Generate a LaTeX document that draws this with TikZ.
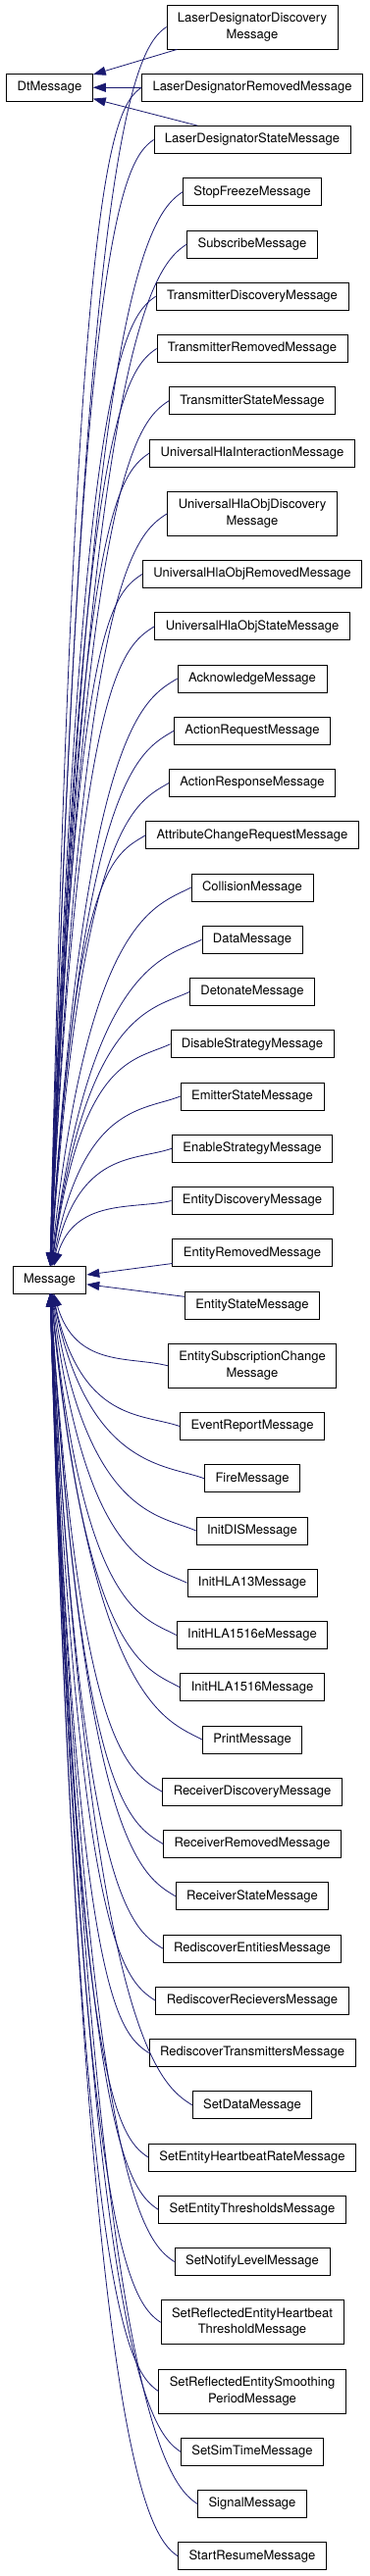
\documentclass[tikz,border=0pt]{standalone}
\usepackage{fontspec}
\setmainfont{TeX Gyre Heros}
\usepackage{xcolor}
\usepackage{tikz}
\usetikzlibrary{arrows.meta}
\definecolor{edgeBlue}{HTML}{191970}
\newdimen\westx
\newdimen\westy

\begin{document}
\begin{tikzpicture}[
    x=1pt, y=1pt,
    cls/.style={draw, line width=0.8pt, minimum height=28pt, inner xsep=11pt, inner ysep=7pt, align=center, font=\fontsize{13pt}{16.5pt}\selectfont},
    twoline/.style={minimum height=45pt},
    inh/.style={draw=edgeBlue, line width=0.8pt, arrows={Triangle[length=13pt, width=9pt]}-},
]
    \useasboundingbox (0,0) rectangle (376,-2627);

    % Base classes
    \node[cls] (dtmsg) at (50.5, -89.25) {DtMessage};
    \node[cls] (msg) at (50.5, -1305) {Message};

    % Derived classes
    \node[cls, twoline] (lddisc) at (257, -27.5) {LaserDesignatorDiscovery\\Message};
    \node[cls] (ldrem) at (257, -89.25) {LaserDesignatorRemovedMessage};
    \node[cls] (ldstate) at (257, -142.5) {LaserDesignatorStateMessage};
    \node[cls] (stopfreeze) at (257, -195.75) {StopFreezeMessage};
    \node[cls] (subscribe) at (257, -249) {SubscribeMessage};
    \node[cls] (txdisc) at (257, -302.25) {TransmitterDiscoveryMessage};
    \node[cls] (txrem) at (257, -355.5) {TransmitterRemovedMessage};
    \node[cls] (txstate) at (257, -408.75) {TransmitterStateMessage};
    \node[cls] (uhlaint) at (257, -462) {UniversalHlaInteractionMessage};
    \node[cls, twoline] (uhladisc) at (257, -523.75) {UniversalHlaObjDiscovery\\Message};
    \node[cls] (uhlarem) at (257, -585.5) {UniversalHlaObjRemovedMessage};
    \node[cls] (uhlastate) at (257, -638.75) {UniversalHlaObjStateMessage};
    \node[cls] (ack) at (257, -692) {AcknowledgeMessage};
    \node[cls] (actreq) at (257, -745.25) {ActionRequestMessage};
    \node[cls] (actresp) at (257, -798.5) {ActionResponseMessage};
    \node[cls] (attrchg) at (257, -851.75) {AttributeChangeRequestMessage};
    \node[cls] (collision) at (257, -905) {CollisionMessage};
    \node[cls] (data) at (257, -958.25) {DataMessage};
    \node[cls] (detonate) at (257, -1011.5) {DetonateMessage};
    \node[cls] (disable) at (257, -1064.75) {DisableStrategyMessage};
    \node[cls] (emitter) at (257, -1118) {EmitterStateMessage};
    \node[cls] (enable) at (257, -1171.25) {EnableStrategyMessage};
    \node[cls] (entdisc) at (257, -1224.5) {EntityDiscoveryMessage};
    \node[cls] (entrem) at (257, -1277.75) {EntityRemovedMessage};
    \node[cls] (entstate) at (257, -1331) {EntityStateMessage};
    \node[cls, twoline] (entsub) at (257, -1392.75) {EntitySubscriptionChange\\Message};
    \node[cls] (event) at (257, -1454.5) {EventReportMessage};
    \node[cls] (fire) at (257, -1507.75) {FireMessage};
    \node[cls] (initdis) at (257, -1561) {InitDISMessage};
    \node[cls] (inithla13) at (257, -1614.25) {InitHLA13Message};
    \node[cls] (inithlae) at (257, -1667.5) {InitHLA1516eMessage};
    \node[cls] (inithla) at (257, -1720.75) {InitHLA1516Message};
    \node[cls] (print) at (257, -1774) {PrintMessage};
    \node[cls] (rxdisc) at (257, -1827.25) {ReceiverDiscoveryMessage};
    \node[cls] (rxrem) at (257, -1880.5) {ReceiverRemovedMessage};
    \node[cls] (rxstate) at (257, -1933.75) {ReceiverStateMessage};
    \node[cls] (redisent) at (257, -1987) {RediscoverEntitiesMessage};
    \node[cls] (redisrx) at (257, -2040.25) {RediscoverRecieversMessage};
    \node[cls] (redistx) at (257, -2093.5) {RediscoverTransmittersMessage};
    \node[cls] (setdata) at (257, -2146.75) {SetDataMessage};
    \node[cls] (sethb) at (257, -2200) {SetEntityHeartbeatRateMessage};
    \node[cls] (setthr) at (257, -2253.25) {SetEntityThresholdsMessage};
    \node[cls] (setnotify) at (257, -2306.5) {SetNotifyLevelMessage};
    \node[cls, twoline] (setrefhb) at (257, -2368.25) {SetReflectedEntityHeartbeat\\ThresholdMessage};
    \node[cls, twoline] (setrefsm) at (257, -2438.5) {SetReflectedEntitySmoothing\\PeriodMessage};
    \node[cls] (setsim) at (257, -2500.25) {SetSimTimeMessage};
    \node[cls] (signal) at (257, -2553.5) {SignalMessage};
    \node[cls] (startres) at (257, -2606.75) {StartResumeMessage};

    % DtMessage inheritance
    \foreach \c in {lddisc, ldrem, ldstate}
        \draw[inh] (dtmsg) -- (\c);

    % Message inheritance
    \draw[inh] (msg) -- (entrem);
    \draw[inh] (msg) -- (entstate);
    \foreach \c in {lddisc, ldrem, ldstate, stopfreeze, subscribe, txdisc, txrem, txstate,
                    uhlaint, uhladisc, uhlarem, uhlastate, ack, actreq, actresp, attrchg,
                    collision, data, detonate, disable, emitter, enable, entdisc,
                    entsub, event, fire, initdis, inithla13, inithlae, inithla, print,
                    rxdisc, rxrem, rxstate, redisent, redisrx, redistx, setdata, sethb,
                    setthr, setnotify, setrefhb, setrefsm, setsim, signal, startres} {
        \pgfextractx{\westx}{\pgfpointanchor{\c}{west}}
        \pgfextracty{\westy}{\pgfpointanchor{\c}{west}}
        \pgfmathsetmacro{\ang}{atan2(\westy+1305pt, \westx-50.5pt)}
        \pgfmathsetmacro{\len}{abs(\westy+1305pt)/sin(abs(\ang))}
        \pgfmathsetmacro{\outang}{63*sign(\ang)+0.3*\ang}
        \pgfmathsetmacro{\inang}{180+0.4*\ang}
        \pgfmathsetmacro{\outd}{0.9*abs(\westy+1305pt)}
        \pgfmathsetmacro{\ind}{min(40,0.3*\len)}
        \draw[inh] (msg.\outang) .. controls +(\outang:\outd) and +(\inang:\ind) .. (\c.west);
    }
\end{tikzpicture}
\end{document}
